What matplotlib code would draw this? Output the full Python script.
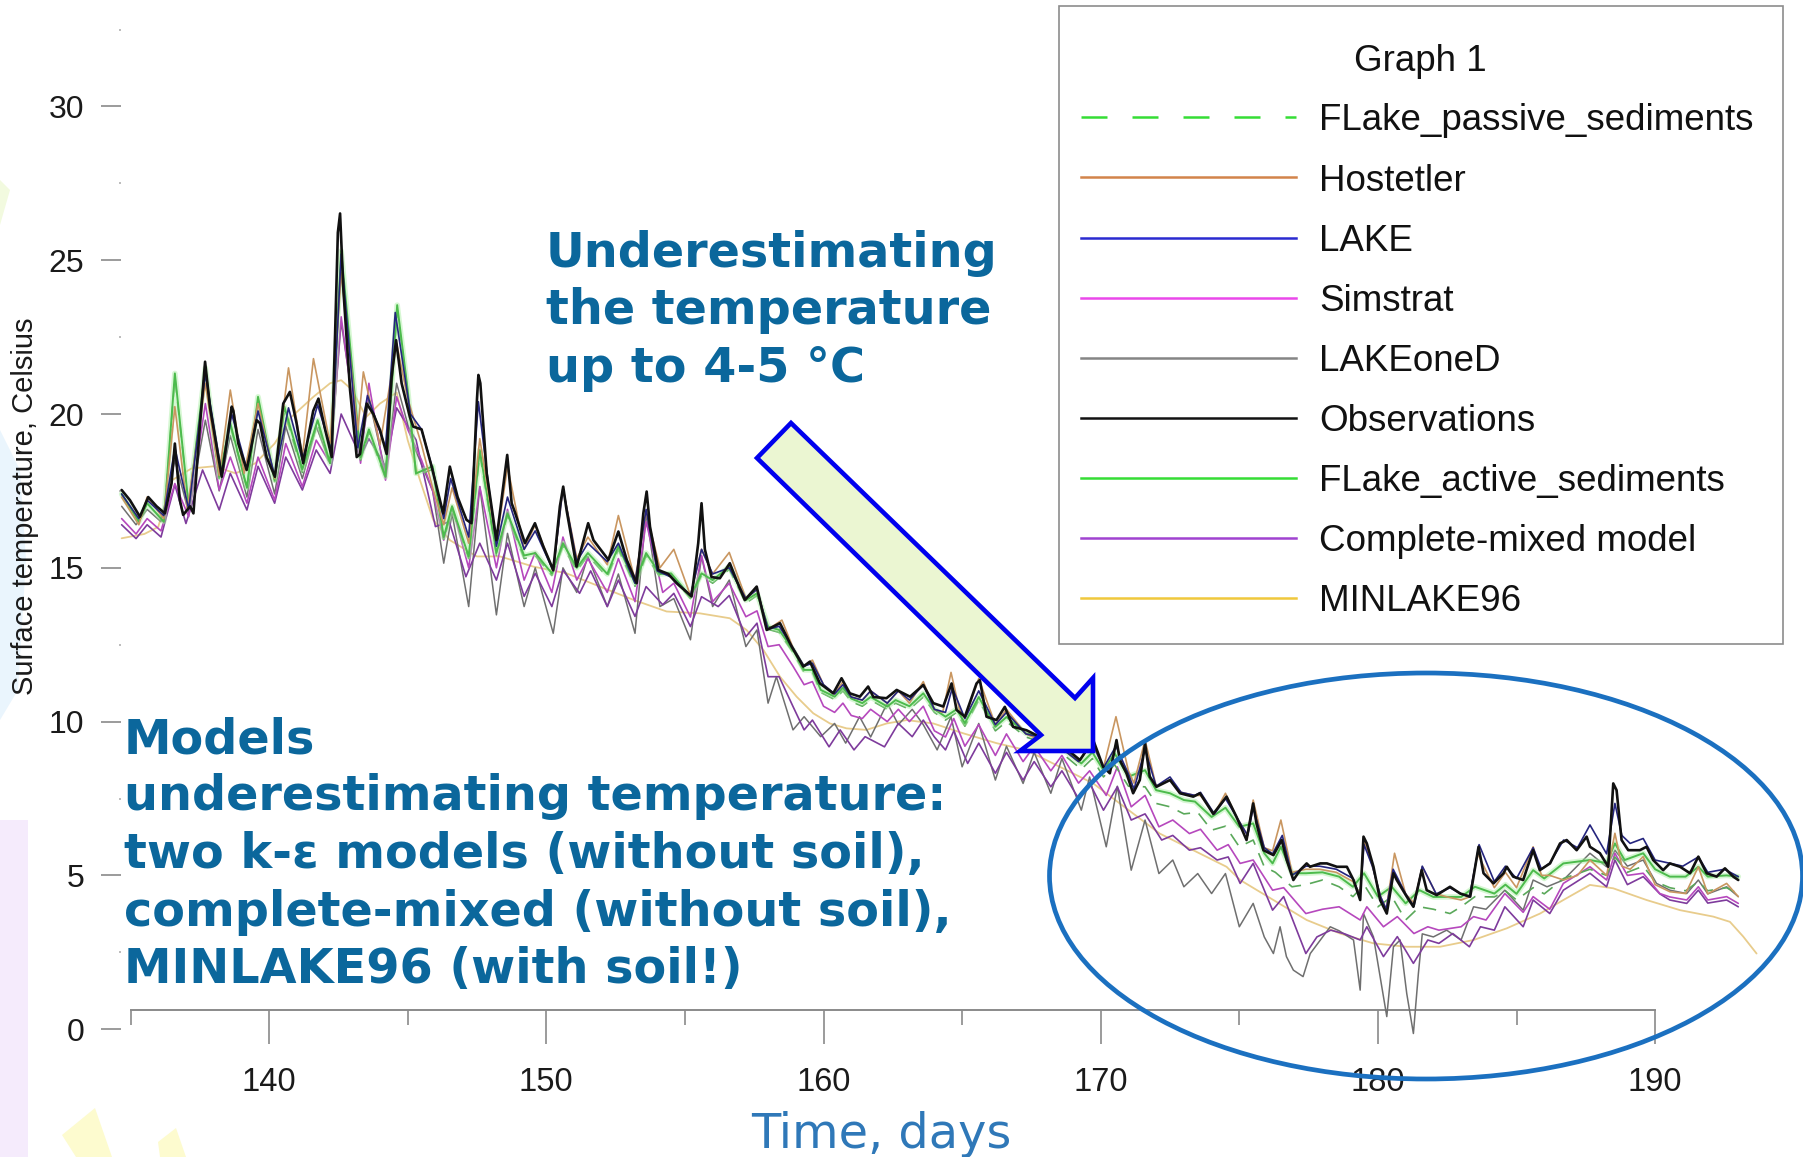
import matplotlib.pyplot as plt
from matplotlib import font_manager
from matplotlib.patches import Ellipse, Polygon, Rectangle

# ---- data: surface temperature (Celsius) vs time (days) ----
obs_day = [134.68, 134.98, 135.34, 135.64, 135.94, 136.24, 136.48, 136.60, 136.78, 136.90,
           137.15, 137.27, 137.51, 137.69, 137.87, 138.29, 138.65, 138.71, 138.89, 139.19,
           139.55, 139.67, 139.91, 140.21, 140.51, 140.75, 140.99, 141.23, 141.59, 141.78,
           142.02, 142.26, 142.48, 142.56, 142.68, 142.92, 143.16, 143.28, 143.52, 143.76,
           144.0, 144.24, 144.42, 144.58, 144.78, 145.08, 145.2, 145.5, 145.86, 146.28,
           146.52, 146.8, 147.12, 147.3, 147.5, 147.55, 147.62, 147.85, 148.2, 148.59,
           148.75, 148.87, 149.23, 149.59, 149.89, 150.25, 150.49, 150.61, 150.73, 151.09,
           151.51, 151.7, 152.24, 152.6, 152.9, 153.26, 153.5, 153.62, 153.74, 154.04,
           154.4, 154.7, 155.24, 155.48, 155.6, 155.72, 155.96, 156.26, 156.62, 156.86,
           157.16, 157.59, 157.95, 158.43, 158.85, 159.27, 159.51, 159.87, 160.35, 160.65,
           160.95, 161.31, 161.61, 161.8, 162.27, 162.64, 163.12, 163.6, 163.96, 164.32,
           164.62, 164.8, 165.1, 165.52, 165.64, 165.88, 166.24, 166.54, 166.84, 167.32,
           167.81, 168.53, 169.25, 169.73, 170.09, 170.33, 170.57, 170.69, 170.93, 171.17,
           171.41, 171.6, 171.77, 172.01, 172.5, 172.86, 173.34, 173.58, 174.06, 174.54,
           174.9, 175.26, 175.5, 175.62, 175.87, 176.23, 176.53, 176.71, 176.95, 177.19,
           177.43, 177.55, 177.92, 178.16, 178.52, 178.88, 179.12, 179.36, 179.48, 179.6,
           179.84, 180.08, 180.32, 180.56, 180.68, 181.04, 181.28, 181.58, 181.76, 182.12,
           182.6, 182.97, 183.33, 183.63, 183.81, 184.17, 184.53, 184.65, 184.88, 185.24,
           185.6, 185.84, 186.21, 186.57, 186.81, 187.17, 187.53, 187.65, 188.01, 188.31,
           188.49, 188.61, 188.79, 189.03, 189.45, 189.69, 189.93, 190.29, 190.53, 190.9,
           191.26, 191.56, 191.86, 192.22, 192.52, 192.82, 193.0]
obs_temp = [17.53, 17.2, 16.66, 17.3, 17.0, 16.77, 17.74, 19.04, 17.2, 16.72,
            17.0, 16.77, 19.69, 21.7, 20.2, 17.96, 20.24, 20.1, 19.04, 18.18,
            19.8, 19.7, 18.6, 17.96, 20.34, 20.72, 19.7, 18.4, 20.1, 20.5,
            19.5, 18.6, 25.9, 26.52, 24.03, 20.78, 18.6, 18.7, 20.34, 20.0,
            19.48, 18.7, 21.2, 22.4, 21.0, 19.9, 19.59, 19.5, 18.3, 16.77,
            18.29, 17.3, 16.56, 16.45, 20.5, 21.27, 21.0, 18.07, 15.9, 18.67,
            17.1, 16.8, 15.8, 16.45, 15.7, 14.93, 17.0, 17.64, 16.88, 15.04,
            16.45, 15.9, 15.26, 16.18, 15.26, 14.5, 16.77, 17.48, 16.34, 14.93,
            14.8, 14.5, 14.07, 15.8, 17.1, 15.6, 14.7, 14.66, 15.15, 14.6,
            13.95, 14.39, 12.98, 13.2, 12.44, 11.79, 11.95, 11.24, 10.92, 11.41,
            10.92, 10.81, 11.14, 10.8, 10.76, 11.03, 10.81, 11.19, 10.6, 10.49,
            11.24, 10.38, 10.16, 11.24, 11.35, 10.16, 10.05, 10.48, 9.83, 9.72,
            9.5, 9.29, 8.75, 9.4, 8.53, 8.32, 9.4, 8.75, 8.32, 7.67,
            8.1, 9.29, 8.21, 7.88, 8.1, 7.67, 7.56, 7.67, 7.0, 7.56,
            6.9, 6.15, 7.34, 6.69, 5.82, 5.66, 6.15, 5.5, 4.85, 5.17,
            5.39, 5.28, 5.39, 5.39, 5.28, 5.28, 4.85, 4.2, 6.26, 6.04,
            5.28, 4.2, 3.76, 5.07, 4.85, 4.31, 3.98, 5.17, 4.52, 4.36,
            4.63, 4.41, 4.31, 5.93, 5.07, 4.74, 5.07, 5.28, 4.96, 4.85,
            5.82, 5.17, 5.39, 6.04, 6.15, 5.82, 6.26, 5.93, 5.72, 5.28,
            7.99, 7.77, 6.15, 5.82, 5.82, 5.93, 5.5, 5.17, 5.39, 5.28,
            5.07, 5.61, 5.07, 4.96, 5.23, 4.96, 4.85]

lake_day = [134.68, 135.3, 135.6, 136.2, 136.6, 137.1, 137.7, 138.3, 138.65, 139.2,
            139.6, 140.2, 140.7, 141.2, 141.75, 142.25, 142.6, 143.2, 143.55, 144.2,
            144.55, 145.1, 145.5, 145.9, 146.3, 146.55, 147.2, 147.55, 147.9, 148.2,
            148.6, 149.2, 149.6, 150.25, 150.6, 151.1, 151.5, 152.2, 152.6, 153.2,
            153.6, 154.0, 154.5, 155.2, 155.6, 156.0, 156.6, 157.2, 157.6, 158.0,
            158.4, 158.9, 159.3, 159.6, 160.0, 160.4, 160.7, 161.0, 161.4, 161.7,
            162.3, 162.7, 163.1, 163.6, 164.0, 164.4, 164.65, 165.1, 165.6, 166.2,
            166.6, 167.3, 167.8, 168.5, 169.2, 169.7, 170.1, 170.55, 171.0, 171.2,
            171.6, 172.0, 172.5, 172.9, 173.4, 173.6, 174.1, 174.5, 174.9, 175.3,
            175.5, 175.9, 176.2, 176.55, 176.9, 177.4, 177.9, 178.5, 179.1, 179.35,
            179.5, 179.8, 180.1, 180.3, 180.55, 181.0, 181.3, 181.6, 182.1, 182.6,
            183.0, 183.3, 183.65, 184.2, 184.6, 185.0, 185.6, 185.9, 186.2, 186.7,
            187.2, 187.65, 188.25, 188.55, 188.8, 189.1, 189.57, 190.0, 190.5, 191.0,
            191.56, 191.9, 192.5, 193.0]
lake_temp = [17.4, 16.6, 17.2, 16.7, 18.9, 16.9, 21.3, 18.0, 20.0, 18.2,
             20.1, 18.0, 20.2, 18.5, 20.3, 18.8, 25.2, 18.9, 20.6, 18.9,
             23.3, 20.0, 19.5, 18.2, 16.6, 17.9, 16.0, 20.4, 17.8, 15.7,
             17.3, 15.6, 16.2, 14.9, 17.6, 15.2, 15.8, 15.2, 15.8, 14.5,
             16.9, 14.9, 14.7, 14.1, 15.6, 14.8, 15.0, 14.0, 14.3, 13.0,
             13.1, 12.4, 11.8, 11.9, 11.2, 10.9, 11.2, 10.8, 10.7, 11.0,
             10.6, 11.0, 10.7, 11.2, 10.4, 10.3, 11.1, 10.1, 11.0, 9.9,
             10.3, 9.6, 9.5, 9.2, 8.7, 9.3, 8.5, 9.2, 8.3, 7.8,
             9.1, 7.9, 8.2, 7.7, 7.6, 7.7, 7.0, 7.5, 6.9, 6.3,
             7.2, 5.9, 5.7, 6.3, 5.0, 5.3, 5.3, 5.2, 4.9, 4.3,
             6.0, 5.3, 4.3, 3.9, 5.2, 4.4, 4.0, 5.3, 4.4, 4.6,
             4.4, 4.3, 6.0, 4.8, 5.3, 4.9, 5.9, 5.2, 5.4, 6.15,
             5.9, 6.64, 5.7, 7.34, 6.3, 6.04, 6.2, 5.5, 5.4, 5.3,
             5.6, 5.1, 5.2, 4.96]

host_day = [134.68, 135.3, 135.6, 136.2, 136.6, 137.05, 137.7, 138.2, 138.6, 139.1,
            139.6, 140.2, 140.7, 141.2, 141.6, 142.2, 142.6, 143.2, 143.4, 144.0,
            144.6, 145.0, 145.5, 145.9, 146.3, 146.6, 147.2, 147.6, 148.2, 148.6,
            149.2, 149.6, 150.25, 150.6, 151.1, 151.5, 152.2, 152.6, 153.2, 153.6,
            154.1, 154.6, 155.2, 155.6, 156.0, 156.6, 157.2, 157.6, 158.0, 158.5,
            158.9, 159.3, 159.6, 160.0, 160.4, 160.7, 161.0, 161.4, 161.7, 162.3,
            162.7, 163.1, 163.6, 164.0, 164.3, 164.6, 164.9, 165.1, 165.6, 166.2,
            166.6, 167.3, 167.8, 168.5, 169.2, 169.7, 170.1, 170.55, 171.0, 171.2,
            171.6, 172.0, 172.5, 172.9, 173.4, 173.6, 174.1, 174.5, 174.9, 175.3,
            175.5, 175.9, 176.2, 176.5, 176.9, 177.4, 177.9, 178.5, 179.1, 179.35,
            179.5, 179.8, 180.1, 180.3, 180.6, 181.0, 181.3, 181.6, 182.1, 182.5,
            183.0, 183.3, 183.6, 184.2, 184.6, 185.0, 185.6, 185.9, 186.2, 186.7,
            187.2, 187.65, 188.25, 188.55, 188.8, 189.1, 189.57, 190.0, 190.53, 191.1,
            191.56, 191.9, 192.58, 193.0]
host_temp = [17.3, 16.4, 17.3, 16.6, 20.24, 16.9, 21.0, 18.0, 20.78, 18.07,
             20.34, 17.9, 21.5, 18.6, 21.8, 19.04, 24.6, 19.48, 21.37, 19.0,
             22.3, 20.5, 19.0, 17.6, 16.4, 17.6, 15.8, 19.2, 15.8, 18.3,
             15.6, 16.4, 14.9, 17.6, 15.3, 16.0, 15.1, 16.7, 14.6, 16.8,
             15.0, 15.6, 14.1, 15.6, 14.8, 15.5, 14.0, 14.3, 13.0, 13.3,
             12.4, 11.8, 12.0, 11.2, 10.9, 11.3, 10.8, 10.7, 11.0, 10.6,
             11.0, 10.6, 11.3, 10.4, 10.3, 11.6, 10.4, 10.1, 11.4, 9.9,
             10.4, 9.6, 9.4, 9.2, 8.7, 9.3, 8.5, 10.16, 8.4, 8.0,
             9.4, 7.9, 8.1, 7.7, 7.6, 7.6, 7.0, 7.67, 6.9, 6.3,
             7.45, 5.9, 5.8, 6.8, 5.1, 5.2, 5.2, 5.1, 4.8, 4.4,
             6.15, 5.3, 4.3, 3.9, 5.72, 4.4, 4.1, 5.28, 4.4, 4.3,
             4.2, 4.3, 5.7, 4.6, 5.1, 4.6, 5.93, 5.0, 5.0, 4.85,
             5.0, 5.5, 5.0, 6.37, 5.3, 5.2, 5.61, 4.7, 4.47, 4.41,
             5.28, 4.4, 4.74, 4.31]

active_day = [134.68, 135.3, 135.6, 136.2, 136.6, 137.1, 137.7, 138.2, 138.6, 139.2,
              139.6, 140.2, 140.55, 141.2, 141.75, 142.2, 142.6, 143.3, 143.6, 144.2,
              144.62, 145.0, 145.3, 145.9, 146.3, 146.6, 147.2, 147.6, 148.2, 148.6,
              149.2, 149.6, 150.2, 150.6, 151.1, 151.5, 152.2, 152.6, 153.2, 153.6,
              154.1, 154.5, 155.2, 155.6, 156.0, 156.6, 157.2, 157.6, 158.0, 158.4,
              158.9, 159.3, 159.6, 159.9, 160.4, 160.7, 161.0, 161.4, 161.7, 162.3,
              162.6, 163.1, 163.6, 164.0, 164.4, 164.8, 165.1, 165.6, 166.2, 166.6,
              167.3, 167.8, 168.5, 169.3, 169.7, 170.1, 170.5, 171.0, 171.6, 172.0,
              172.5, 173.0, 173.4, 174.0, 174.5, 175.0, 175.5, 175.9, 176.2, 176.5,
              176.9, 177.4, 178.0, 178.6, 179.1, 179.5, 180.0, 180.5, 181.0, 181.5,
              182.0, 182.6, 183.0, 183.5, 184.2, 184.6, 185.0, 185.6, 186.0, 186.69,
              187.65, 188.25, 188.55, 188.9, 189.57, 190.0, 190.53, 191.1, 191.56, 191.9,
              192.58, 193.0]
active_temp = [17.4, 16.5, 17.1, 16.5, 21.32, 17.0, 21.5, 17.96, 19.7, 17.6,
               20.56, 17.85, 20.24, 18.2, 19.8, 18.4, 25.3, 18.6, 19.5, 17.96,
               23.54, 20.78, 18.07, 18.3, 16.0, 17.0, 15.37, 18.83, 15.48, 16.77,
               15.4, 15.48, 14.82, 15.8, 15.0, 15.48, 14.8, 15.7, 14.5, 15.48,
               14.8, 14.82, 14.07, 14.82, 14.6, 15.04, 13.95, 14.17, 13.09, 12.98,
               12.33, 11.68, 11.68, 11.03, 10.81, 11.1, 10.75, 10.6, 10.8, 10.49,
               10.7, 10.5, 10.92, 10.4, 10.16, 10.4, 9.95, 10.8, 9.83, 10.15,
               9.62, 9.5, 9.2, 8.64, 9.0, 8.42, 8.97, 8.21, 8.42, 7.77,
               7.67, 7.45, 7.4, 6.9, 7.2, 6.58, 6.69, 5.72, 5.39, 5.93,
               5.07, 5.07, 5.1, 4.96, 4.63, 5.07, 4.31, 4.63, 4.09, 4.52,
               4.3, 4.3, 4.3, 4.63, 4.41, 4.7, 4.4, 5.17, 4.9, 5.39,
               5.5, 5.4, 6.04, 5.5, 5.72, 5.2, 4.96, 4.96, 5.28, 4.96,
               5.0, 4.96]

passive_day = [134.68, 135.3, 135.6, 136.2, 136.6, 137.1, 137.7, 138.2, 138.6, 139.2,
               139.6, 140.2, 140.55, 141.2, 141.75, 142.2, 142.6, 143.3, 143.6, 144.2,
               144.62, 145.0, 145.3, 145.9, 146.3, 146.6, 147.2, 147.6, 148.2, 148.6,
               149.2, 149.6, 150.2, 150.6, 151.1, 151.5, 152.2, 152.6, 153.2, 153.6,
               154.1, 154.5, 155.2, 155.6, 156.0, 156.6, 157.2, 157.6, 158.0, 158.4,
               158.9, 159.3, 159.6, 159.9, 160.4, 160.7, 161.0, 161.4, 161.7, 162.3,
               162.6, 163.1, 163.6, 164.0, 164.4, 164.8, 165.1, 165.6, 166.2, 166.6,
               167.3, 167.8, 168.5, 169.3, 169.7, 170.1, 170.5, 171.0, 171.6, 172.0,
               172.5, 173.0, 173.5, 174.0, 174.5, 175.0, 175.5, 175.9, 176.3, 176.9,
               177.4, 178.0, 178.6, 179.1, 179.5, 180.0, 180.5, 181.0, 181.5, 182.0,
               182.6, 183.0, 183.5, 184.2, 184.6, 185.0, 185.6, 186.0, 186.7, 187.65,
               188.25, 188.55, 189.0, 189.57, 190.0, 190.53, 191.1, 191.56, 191.9, 192.58,
               193.0]
passive_temp = [17.4, 16.5, 17.1, 16.5, 21.2, 17.0, 21.4, 17.9, 19.6, 17.6,
                20.5, 17.8, 20.1, 18.1, 19.7, 18.3, 25.1, 18.5, 19.4, 17.9,
                23.4, 20.7, 18.0, 18.2, 15.9, 16.9, 15.3, 18.7, 15.4, 16.7,
                15.3, 15.4, 14.75, 15.7, 14.9, 15.4, 14.7, 15.6, 14.4, 15.4,
                14.7, 14.75, 14.0, 14.75, 14.5, 14.95, 13.85, 14.1, 13.0, 12.9,
                12.25, 11.6, 11.6, 10.95, 10.72, 11.0, 10.65, 10.5, 10.7, 10.4,
                10.6, 10.4, 10.8, 10.3, 10.05, 10.3, 9.85, 10.7, 9.7, 10.0,
                9.5, 9.35, 9.05, 8.45, 8.8, 8.2, 8.6, 7.9, 7.88, 7.34,
                7.23, 7.0, 7.05, 6.47, 6.6, 5.93, 6.15, 5.28, 5.1, 4.63,
                4.7, 4.85, 4.63, 4.31, 4.7, 3.98, 4.31, 3.55, 3.98, 3.9,
                3.76, 3.98, 4.31, 4.3, 4.5, 4.2, 4.6, 4.4, 4.9, 5.2,
                5.0, 5.6, 5.1, 5.3, 4.8, 4.6, 4.5, 4.8, 4.5, 4.6,
                4.4]

simstrat_day = [134.68, 135.2, 135.6, 136.1, 136.6, 137.1, 137.7, 138.2, 138.6, 139.2,
                139.6, 140.2, 140.6, 141.2, 141.7, 142.2, 142.6, 143.3, 143.6, 144.2,
                144.6, 145.0, 145.5, 145.9, 146.3, 146.6, 147.2, 147.6, 148.2, 148.6,
                149.2, 149.6, 150.2, 150.6, 151.1, 151.5, 152.2, 152.6, 153.2, 153.6,
                154.2, 154.6, 155.2, 155.6, 156.0, 156.6, 157.2, 157.6, 158.0, 158.4,
                158.9, 159.3, 159.6, 160.0, 160.4, 160.7, 161.0, 161.4, 161.7, 162.3,
                162.7, 163.1, 163.6, 164.0, 164.4, 164.7, 165.1, 165.6, 166.2, 166.6,
                167.2, 167.6, 168.2, 168.6, 169.2, 169.6, 170.2, 170.6, 171.1, 171.6,
                172.1, 172.6, 173.2, 173.6, 174.2, 174.6, 175.03, 175.5, 176.2, 176.6,
                177.4, 178.0, 178.6, 179.36, 179.6, 180.2, 180.7, 181.3, 181.8, 182.2,
                183.0, 183.45, 183.9, 184.58, 185.24, 185.6, 186.2, 186.69, 187.65, 188.25,
                188.55, 189.0, 189.57, 190.17, 190.53, 191.14, 191.56, 191.9, 192.58, 193.0]
simstrat_temp = [16.6, 16.1, 16.6, 16.2, 17.74, 16.66, 20.34, 17.53, 18.6, 17.1,
                 18.6, 17.2, 19.04, 17.64, 19.15, 18.4, 23.16, 18.4, 21.0, 17.85,
                 20.56, 19.5, 18.5, 17.5, 15.9, 17.0, 15.0, 17.64, 15.0, 16.9,
                 14.6, 15.5, 14.2, 16.0, 14.6, 15.3, 14.2, 15.3, 13.9, 16.5,
                 14.2, 14.5, 13.4, 15.4, 13.9, 14.5, 13.41, 13.6, 12.44, 12.5,
                 11.8, 11.2, 11.3, 10.5, 10.3, 10.6, 10.2, 10.1, 10.4, 10.0,
                 10.4, 10.0, 10.5, 9.7, 9.5, 10.1, 9.2, 9.9, 8.9, 9.6,
                 8.7, 9.2, 8.4, 8.9, 8.0, 8.4, 7.6, 8.53, 7.23, 7.6,
                 6.58, 6.8, 6.36, 6.5, 5.82, 6.0, 5.39, 5.5, 4.52, 4.6,
                 3.76, 3.9, 3.98, 3.55, 3.98, 3.33, 3.66, 3.11, 3.33, 3.22,
                 3.33, 3.66, 3.55, 4.41, 3.8, 4.31, 3.9, 4.74, 5.28, 4.85,
                 5.72, 5.0, 5.07, 4.41, 4.3, 4.2, 4.63, 4.2, 4.31, 4.09]

mixed_day = [134.68, 135.2, 135.6, 136.1, 136.6, 137.0, 137.6, 138.2, 138.6, 139.2,
             139.6, 140.2, 140.6, 141.2, 141.7, 142.2, 142.6, 143.3, 143.6, 144.2,
             144.6, 145.3, 146.0, 146.5, 147.1, 147.6, 148.2, 148.6, 149.2, 149.6,
             150.2, 150.6, 151.2, 151.6, 152.2, 152.6, 153.2, 153.6, 154.2, 154.6,
             155.2, 155.6, 156.2, 156.6, 157.2, 157.6, 158.0, 158.4, 158.9, 159.3,
             159.6, 160.2, 160.6, 161.1, 161.5, 162.2, 162.7, 163.2, 163.6, 164.0,
             164.4, 164.7, 165.2, 165.6, 166.2, 166.6, 167.2, 167.6, 168.2, 168.6,
             169.2, 169.6, 170.1, 170.6, 171.1, 171.6, 172.2, 172.6, 173.2, 173.6,
             174.2, 174.6, 175.03, 175.5, 176.2, 176.6, 177.4, 177.8, 178.3, 178.8,
             179.36, 179.6, 180.2, 180.7, 181.28, 181.8, 182.2, 182.7, 183.3, 183.7,
             184.2, 184.58, 185.24, 185.6, 186.2, 186.69, 187.65, 188.25, 188.55, 189.0,
             189.57, 190.17, 190.53, 191.14, 191.56, 191.9, 192.58, 193.0]
mixed_temp = [16.4, 15.95, 16.4, 16.0, 17.7, 16.44, 18.18, 16.88, 18.07, 16.88,
              18.3, 17.1, 18.6, 17.53, 18.83, 18.07, 20.0, 18.6, 19.2, 18.3,
              20.2, 19.16, 16.34, 16.5, 14.71, 15.8, 14.6, 15.8, 14.07, 14.82,
              13.74, 14.93, 14.17, 14.9, 13.74, 14.6, 13.42, 14.39, 13.8, 14.17,
              13.09, 14.06, 13.74, 14.1, 12.76, 13.2, 11.46, 11.46, 10.49, 9.73,
              10.05, 9.18, 9.73, 9.08, 9.51, 9.18, 9.94, 9.51, 10.05, 9.5,
              9.08, 9.7, 8.64, 9.3, 8.32, 9.0, 8.1, 8.7, 7.88, 8.4,
              7.5, 8.0, 7.12, 7.88, 6.8, 7.0, 6.15, 6.3, 5.82, 5.9,
              5.5, 5.6, 4.74, 5.39, 3.87, 4.31, 2.46, 3.0, 3.22, 3.1,
              2.9, 3.33, 2.36, 3.01, 2.14, 2.9, 2.79, 3.11, 2.68, 3.33,
              3.22, 3.98, 3.33, 4.2, 3.76, 4.52, 5.07, 4.63, 5.5, 4.7,
              4.96, 4.4, 4.2, 4.09, 4.52, 4.1, 4.2, 3.98]

oned_day = [134.68, 135.2, 135.6, 136.1, 136.6, 137.1, 137.7, 138.2, 138.6, 139.2,
            139.6, 140.2, 140.6, 141.2, 141.7, 142.2, 142.6, 143.3, 143.6, 144.2,
            144.6, 145.2, 145.9, 146.3, 146.6, 147.2, 147.6, 148.2, 148.6, 149.2,
            149.6, 150.25, 150.6, 151.1, 151.5, 152.2, 152.6, 153.2, 153.6, 154.1,
            154.6, 155.2, 155.6, 156.0, 156.6, 157.2, 157.6, 158.0, 158.3, 158.9,
            159.3, 159.9, 160.4, 160.8, 161.3, 161.7, 162.3, 162.7, 163.2, 163.6,
            164.1, 164.6, 165.0, 165.6, 166.2, 166.6, 167.2, 167.6, 168.2, 168.6,
            169.3, 169.6, 170.2, 170.6, 171.1, 171.6, 172.1, 172.6, 173.0, 173.5,
            174.0, 174.5, 175.0, 175.5, 175.9, 176.23, 176.47, 176.7, 176.95, 177.3,
            177.56, 178.28, 178.6, 179.12, 179.36, 179.48, 179.84, 180.32, 180.56, 180.8,
            181.04, 181.28, 181.46, 181.6, 182.0, 182.48, 183.0, 183.45, 183.9, 184.58,
            185.24, 185.6, 186.1, 186.69, 187.65, 188.25, 188.55, 189.0, 189.57, 190.05,
            190.53, 191.14, 191.56, 191.9, 192.58, 193.0]
oned_temp = [17.0, 16.4, 16.9, 16.5, 18.5, 16.8, 19.8, 17.5, 19.3, 17.3,
             19.5, 17.4, 19.6, 17.9, 19.6, 18.4, 23.0, 18.7, 20.5, 18.1,
             21.0, 19.0, 17.5, 15.15, 16.77, 13.74, 17.64, 13.47, 16.12, 13.74,
             15.0, 12.87, 15.0, 14.2, 15.37, 13.74, 14.8, 12.87, 16.77, 13.74,
             14.0, 12.66, 15.37, 13.74, 14.6, 12.44, 12.98, 10.6, 11.46, 9.73,
             10.16, 9.51, 9.94, 9.3, 10.16, 9.5, 10.6, 9.9, 10.4, 9.9,
             9.08, 10.16, 8.53, 9.94, 8.1, 9.2, 7.99, 9.0, 7.67, 8.8,
             7.12, 8.2, 5.93, 7.9, 5.17, 6.8, 5.06, 5.5, 4.63, 5.06,
             4.41, 5.06, 3.33, 4.09, 3.0, 2.46, 3.33, 2.36, 1.92, 1.71,
             2.46, 3.33, 3.2, 2.9, 1.27, 3.76, 3.0, 0.41, 2.68, 2.9,
             1.16, -0.14, 1.81, 3.1, 3.0, 3.22, 2.9, 3.98, 3.9, 4.52,
             3.87, 4.85, 4.63, 4.85, 5.72, 5.28, 5.82, 5.3, 5.5, 4.74,
             4.52, 4.41, 4.85, 4.4, 4.63, 4.31]

minlake_day = [134.68, 135.5, 136.0, 136.5, 137.2, 138.0, 138.8, 139.5, 140.2, 140.8,
               141.6, 142.2, 142.6, 143.0, 143.5, 144.0, 144.6, 145.0, 145.44, 145.92,
               146.52, 147.49, 148.33, 149.53, 150.73, 151.93, 153.14, 154.34, 155.54, 156.62,
               157.22, 157.83, 158.43, 159.03, 159.63, 160.23, 160.83, 161.55, 162.28, 163.0,
               163.96, 165.04, 166.24, 167.32, 169.73, 172.13, 174.54, 175.03, 176.23, 177.43,
               178.64, 179.84, 181.04, 182.24, 183.45, 184.65, 185.85, 186.69, 187.65, 188.49,
               189.69, 190.9, 192.1, 192.7, 193.18, 193.66]
minlake_temp = [15.96, 16.1, 16.33, 17.85, 18.23, 18.3, 18.07, 18.4, 19.04, 19.9,
                20.56, 21.0, 21.1, 20.78, 19.9, 20.34, 20.7, 19.15, 17.86, 16.56,
                15.9, 15.37, 15.37, 15.04, 14.82, 14.39, 13.96, 13.58, 13.52, 13.36,
                12.98, 12.33, 11.46, 10.81, 10.27, 9.94, 9.78, 9.73, 9.94, 10.05,
                9.94, 9.62, 9.3, 9.07, 7.99, 6.36, 5.28, 4.85, 4.2, 3.55,
                3.11, 2.79, 2.68, 2.68, 2.9, 3.28, 3.76, 4.2, 4.69, 4.58,
                4.2, 3.87, 3.66, 3.49, 3.01, 2.46]

legend_names = ['FLake_passive_sediments', 'Hostetler', 'LAKE', 'Simstrat', 'LAKEoneD',
                'Observations', 'FLake_active_sediments', 'Complete-mixed model', 'MINLAKE96']

x_major = [140, 150, 160, 170, 180, 190]
x_minor = [135, 145, 155, 165, 175, 185]
y_major = [0, 5, 10, 15, 20, 25, 30]
y_minor = [2.5, 7.5, 12.5, 17.5, 22.5, 27.5, 32.5]

# ---- figure ----
plt.rcParams['font.family'] = ['Liberation Sans', 'DejaVu Sans']
W, H = 1803, 1157
fig = plt.figure(figsize=(W / 100, H / 100), dpi=100)
fig.patch.set_facecolor('white')

ax = fig.add_axes([0, 0, 1, 1])
ax.set_xlim(130.292, 195.335)
ax.set_ylim(-4.155, 33.46)
ax.patch.set_visible(False)

for side in ['top', 'right']:
    ax.spines[side].set_visible(False)
ax.spines['left'].set_position(('data', 134.657))
ax.spines['left'].set_visible(False)
ax.spines['bottom'].set_position(('data', 0.63))
ax.spines['bottom'].set_bounds(135, 190)
ax.spines['bottom'].set_color('#8a8a8a')
ax.spines['bottom'].set_linewidth(1.4)

ax.set_xticks(x_major)
ax.set_xticks(x_minor, minor=True)
ax.set_yticks(y_major)
ax.set_yticks(y_minor, minor=True)
ax.tick_params(axis='x', which='major', direction='out', length=24.5, width=1.2,
               color='#8a8a8a', pad=17, labelsize=23.5, labelcolor='#1a1a1a')
ax.tick_params(axis='x', which='minor', direction='out', length=10.5, width=1.2, color='#8a8a8a')
ax.tick_params(axis='y', which='major', direction='out', length=14.4, width=1.2,
               color='#8a8a8a', pad=12, labelsize=23, labelcolor='#1a1a1a')
ax.tick_params(axis='y', which='minor', direction='out', length=1.5, width=1.2, color='#b0b0b0')

# model curves (drawn under the observations)
line_kw = dict(solid_joinstyle='round', solid_capstyle='round')
ax.plot(minlake_day, minlake_temp, color='#e8cc8c', lw=1.3, zorder=2, **line_kw)
ax.plot(oned_day, oned_temp, color='#6f6f6f', lw=1.1, zorder=3, **line_kw)
ax.plot(mixed_day, mixed_temp, color='#7e3b9c', lw=1.2, zorder=3, **line_kw)
ax.plot(simstrat_day, simstrat_temp, color='#b648bd', lw=1.2, zorder=3, **line_kw)
ax.plot(passive_day, passive_temp, color='#5aa85a', lw=1.2, dashes=[8, 5.5], zorder=4)
ax.plot(active_day, active_temp, color='#a6ee9e', lw=4.0, alpha=0.45, zorder=4, **line_kw)
ax.plot(active_day, active_temp, color='#4cbb4c', lw=1.4, zorder=4, **line_kw)
ax.plot(host_day, host_temp, color='#c99660', lw=1.2, zorder=5, **line_kw)
ax.plot(lake_day, lake_temp, color='#25257e', lw=1.2, zorder=6, **line_kw)
ax.plot(obs_day, obs_temp, color='#111111', lw=1.9, zorder=7, **line_kw)

# ---- overlay in pixel coordinates for legend and slide annotations ----
ov = fig.add_axes([0, 0, 1, 1], zorder=5)
ov.set_xlim(0, W)
ov.set_ylim(H, 0)
ov.axis('off')
ov.patch.set_visible(False)

# faint slide background pieces at the left edge
ov.add_patch(Polygon([(0, 430), (20, 470), (26, 560), (18, 690), (0, 720)],
                     closed=True, fc='#eaf5fd', ec='none', zorder=0))
ov.add_patch(Rectangle((0, 820), 28, 337, fc='#f5ebfc', ec='none', zorder=0))
ov.add_patch(Polygon([(62, 1135), (95, 1108), (112, 1157), (76, 1157)],
                     closed=True, fc='#fdfbcf', ec='none', zorder=0))
ov.add_patch(Polygon([(158, 1142), (176, 1128), (186, 1157), (160, 1157)],
                     closed=True, fc='#fdfbcf', ec='none', zorder=0))
ov.add_patch(Polygon([(0, 180), (10, 190), (0, 225)], closed=True, fc='#f2fadf', ec='none', zorder=0))

# y label
ov.text(25, 506, 'Surface temperature, Celsius', rotation=90, ha='center', va='center',
        fontsize=21, color='#1a1a1a')

# x label
ov.text(881, 1148, 'Time, days', ha='center', va='baseline', family='DejaVu Sans',
        fontsize=34.5, color='#2f78b8')

# legend box
names = {f.name for f in font_manager.fontManager.ttflist}
if 'Liberation Sans Narrow' in names:
    leg_font, leg_size = 'Liberation Sans Narrow', 31
else:
    leg_font, leg_size = 'Liberation Sans', 26.5
cap_half = 0.358 * leg_size / 0.72

ov.add_patch(Rectangle((1059, 6), 724, 638, fc='white', ec='#8c8c8c', lw=1.2, zorder=2))
ov.text(1420, 57.5 + cap_half, 'Graph 1', ha='center', va='baseline',
        family=leg_font, fontsize=leg_size, color='#111111', zorder=3)
leg_colors = ['#35dd35', '#d2844a', '#2a2ad0', '#ea48ea', '#858585',
              '#111111', '#35dd35', '#a043d0', '#f0c83c']
for i, name in enumerate(legend_names):
    yy = 117.3 + i * 60.1
    if i == 0:
        ov.plot([1081, 1296], [yy, yy], color=leg_colors[i], lw=1.8, dashes=[10.4, 10], zorder=3)
    else:
        ov.plot([1081, 1296], [yy, yy], color=leg_colors[i], lw=1.8, zorder=3)
    ov.text(1319, yy + cap_half, name, ha='left', va='baseline', family=leg_font,
            fontsize=leg_size, color='#111111', zorder=3)

# big block arrow
ov.add_patch(Polygon([(791, 423), (1075, 698), (1093, 678), (1093, 751),
                      (1020, 751), (1041, 735), (757, 458)],
                     closed=True, fc='#ebf6d2', ec='#0000ee', lw=3.3, joinstyle='miter', zorder=3))

# ellipse around the final period
ov.add_patch(Ellipse((1426, 876), 753, 406, fill=False, ec='#1b70c0', lw=3.4, zorder=3))

# annotation texts
note_color = '#0b679c'
upper_lines = ['Underestimating', 'the temperature', 'up to 4-5 °C']
for i, line in enumerate(upper_lines):
    ov.text(546, 267 + i * 57.5, line, ha='left', va='baseline', family='DejaVu Sans',
            fontweight='bold', fontsize=34.4, color=note_color, zorder=4)

lower_lines = ['Models', 'underestimating temperature:', 'two k-ε models (without soil),',
               'complete-mixed (without soil),', 'MINLAKE96 (with soil!)']
for i, line in enumerate(lower_lines):
    ov.text(124, 753 + i * 57.5, line, ha='left', va='baseline', family='DejaVu Sans',
            fontweight='bold', fontsize=34.4, color=note_color, zorder=4)

fig.savefig('out.png', dpi=100)
